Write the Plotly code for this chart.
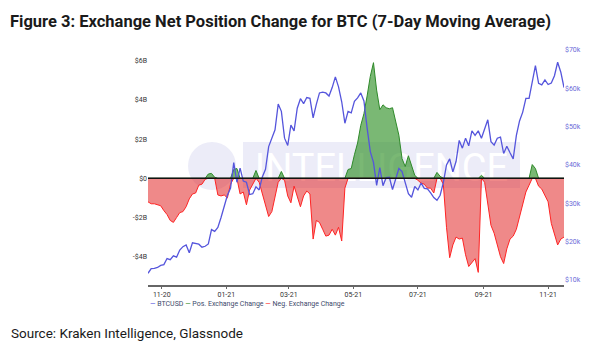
import numpy as np
import pandas as pd
import plotly.graph_objects as go

# 3-day sampling grid, 19 Oct 2020 .. 16 Nov 2021
dates = pd.date_range("2020-10-19", periods=132, freq="3D")

# BTC/USD close, thousands of USD
btc_usd_k = [
    11.75, 12.99, 13.03, 13.27, 13.80,
    14.0, 15.6, 15.3, 16.3, 15.95, 17.8, 18.7, 19.15, 17.1, 19.7,
    19.45, 19.35, 18.55, 18.8, 19.4, 23.15, 22.7, 23.7, 26.3, 28.9,
    32.1, 34.0, 40.6, 35.5, 39.2, 35.8, 35.5, 32.3, 32.5, 34.3,
    33.5, 36.9, 38.9, 44.8, 47.2, 49.2, 55.9, 54.0, 47.0, 45.1,
    50.4, 48.9, 54.8, 57.3, 56.0, 57.6, 57.4, 52.3, 55.8, 58.8,
    59.0, 58.8, 58.0, 60.2, 63.0, 60.4, 56.5, 50.9, 54.0, 53.6,
    56.6, 57.5, 58.8, 56.7, 49.7, 43.5, 40.7, 34.7, 39.3, 34.6,
    36.7, 36.8, 33.6, 36.7, 39.1, 38.3, 35.5, 32.5, 31.6, 34.4,
    33.5, 35.3, 33.9, 33.8, 32.7, 31.5, 30.8, 32.1, 35.4, 40.0, 41.6,
    38.2, 40.9, 46.4, 44.4, 47.0, 45.0, 48.9, 47.7, 48.9, 47.0,
    49.3, 51.8, 46.1, 45.2, 47.0, 47.3, 43.0, 44.9, 43.2, 41.6,
    47.7, 51.5, 53.8, 57.4, 57.4, 61.5, 65.9, 61.3, 60.9, 62.2,
    61.0, 61.4, 63.3, 66.8, 64.2, 60.2,
]

# Exchange net position change, 7-day moving average, billions of USD
net_change_b = [
    -1.2, -1.3, -1.3, -1.35, -1.4,
    -1.65, -1.85, -2.15, -2.25, -2.0,
    -1.75, -1.7, -1.45, -1.05, -0.8,
    -0.75, -0.35, -0.3, -0.05, 0.22,
    0.25, 0.05, -0.85, -0.9, -0.85,
    -1.0, -0.3, 0.45, 0.5, -0.8,
    -0.7, -1.35, -0.6, -0.3, 0.4,
    -0.2, -0.8, -1.35, -1.95, -1.7,
    -0.9, -0.2, 0.35, -0.1, -0.9,
    -1.25, -0.4, -0.9, -1.45, -0.9,
    -0.65, -0.8, -3.1, -2.15, -2.25,
    -2.6, -2.95, -2.9, -2.6, -2.9,
    -2.5, -3.2, -0.5, 0.45, 0.5,
    1.2, 1.8, 2.7, 3.3, 4.2,
    5.2, 5.9, 4.5, 3.5, 3.75,
    3.6, 3.55, 3.6, 2.9, 2.2,
    1.0, 0.6, 1.15, 0.7, 0.15,
    -0.1, -0.25, -0.3, -0.5, -0.5,
    -0.75, 0.3, 0.1, -0.3, -2.5,
    -4.05, -3.4, -3.0, -3.1, -3.05,
    -3.9, -4.5, -4.3, -4.1, -4.8,
    0.15, -0.2, -1.2, -2.4, -2.8,
    -3.4, -4.0, -4.35, -3.6, -3.1,
    -2.95, -2.6, -2.0, -1.4, -0.7,
    -0.35, 0.7, 0.5, -0.4, -0.55,
    -0.9, -1.2, -2.3, -2.9, -3.4,
    -3.1, -3.0,
]

left_ticks_b = [-4, -2, 0, 2, 4, 6]
left_tick_text = ["-$4B", "-$2B", "$0", "$2B", "$4B", "$6B"]
right_ticks_k = [10, 20, 30, 40, 50, 60, 70]
right_tick_text = ["$10k", "$20k", "$30k", "$40k", "$50k", "$60k", "$70k"]

BTC_COLOR = "#5555dc"
POS_LINE, POS_FILL = "#2f8a2a", "rgba(40,140,30,0.62)"
NEG_LINE, NEG_FILL = "#ff2424", "rgba(226,40,40,0.55)"
FONT = "Roboto, Liberation Sans, Arial, sans-serif"

net = np.array(net_change_b)
pos = np.clip(net, 0, None)
neg = np.clip(net, None, 0)

fig = go.Figure()
fig.add_trace(go.Scatter(x=dates, y=neg, mode="lines", fill="tozeroy",
                         line=dict(color=NEG_LINE, width=1), fillcolor=NEG_FILL,
                         name="Neg. Exchange Change", yaxis="y"))
fig.add_trace(go.Scatter(x=dates, y=pos, mode="lines", fill="tozeroy",
                         line=dict(color=POS_LINE, width=1), fillcolor=POS_FILL,
                         name="Pos. Exchange Change", yaxis="y"))
fig.add_trace(go.Scatter(x=dates, y=btc_usd_k, mode="lines",
                         line=dict(color=BTC_COLOR, width=1.3),
                         name="BTCUSD", yaxis="y2"))

# plot area: 148..564 px horizontally, 45..285 px vertically
y_range = [-(285 - 178.3) / 19.6, (178.3 - 45) / 19.6]
y2_range = [10 - (285 - 280) / 3.833, 70 + (50 - 45) / 3.833]

fig.update_layout(
    width=600, height=349,
    margin=dict(l=148, r=36, t=45, b=64),
    paper_bgcolor="white", plot_bgcolor="white",
    showlegend=False,
    font=dict(family=FONT, size=8, color="#333"),
    xaxis=dict(
        range=[dates[0], dates[-1]],
        tick0="2020-11-01", dtick="M2", tickformat="%m-%y",
        showgrid=False, zeroline=False,
        showline=True, linecolor="#666", linewidth=1.5,
        ticks="outside", ticklen=2, tickcolor="#666",
        tickfont=dict(family=FONT, size=7, color="#333"),
    ),
    yaxis=dict(
        range=y_range, tickvals=left_ticks_b, ticktext=left_tick_text,
        showgrid=False, zeroline=False, showline=False, ticks="",
        tickfont=dict(family=FONT, size=7, color="#333"),
    ),
    yaxis2=dict(
        range=y2_range, tickvals=right_ticks_k, ticktext=right_tick_text,
        overlaying="y", side="right",
        showgrid=False, zeroline=False, showline=False, ticks="",
        tickfont=dict(family=FONT, size=7, color="#6b6bd8"),
    ),
)

# faint brand watermark behind the data
WM = "#ececf8"
fig.add_shape(type="circle", xref="paper", yref="paper", layer="below",
              x0=(188 - 148) / 416, x1=(236 - 148) / 416,
              y0=(285 - 190) / 240, y1=(285 - 142) / 240,
              fillcolor=WM, line=dict(width=0))
fig.add_shape(type="rect", xref="paper", yref="paper", layer="below",
              x0=(243 - 148) / 416, x1=(520 - 148) / 416,
              y0=(285 - 188) / 240, y1=(285 - 142) / 240,
              fillcolor=WM, line=dict(width=0),
              label=dict(text="INTELLIGENCE",
                         font=dict(family="Roboto", size=38, color="white")))

# zero reference line
fig.add_shape(type="line", xref="paper", yref="y", x0=0, x1=1, y0=0, y1=0,
              line=dict(color="#111", width=1.5), layer="above")

fig.add_annotation(
    xref="paper", yref="paper", x=-140 / 416, y=1 + 23 / 240,
    xanchor="left", yanchor="middle", showarrow=False,
    text="<b>Figure 3: Exchange Net Position Change for BTC (7-Day Moving Average)</b>",
    font=dict(family=FONT, size=16.5, color="#1a1a1a"),
)
fig.add_annotation(
    xref="paper", yref="paper", x=-139 / 416, y=-(333 - 285) / 240,
    xanchor="left", yanchor="middle", showarrow=False,
    text="Source: Kraken Intelligence, Glassnode",
    font=dict(family=FONT, size=13.5, color="#1a1a1a"),
)
fig.add_annotation(
    xref="paper", yref="paper", x=0, y=-(304 - 285) / 240,
    xanchor="left", yanchor="middle", showarrow=False,
    text=(f'<span style="color:{BTC_COLOR}">—</span> BTCUSD '
          f'<span style="color:{POS_LINE}">—</span> Pos. Exchange Change '
          f'<span style="color:{NEG_LINE}">—</span> Neg. Exchange Change'),
    font=dict(family=FONT, size=7, color="#3d4a6b"),
)

fig.write_html("out.html")
